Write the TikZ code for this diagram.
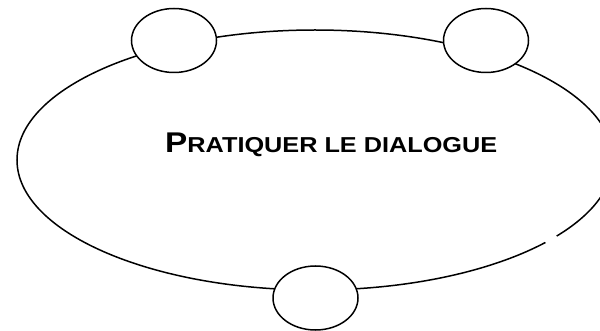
\documentclass[tikz,border=0pt]{standalone}
\usepackage{fontspec}
\setmainfont{Liberation Sans}
\newfontfamily\lblfont[FakeStretch=1.17]{Liberation Sans Bold}
\usetikzlibrary{shapes.geometric}
\begin{document}
\begin{tikzpicture}[x=1pt,y=-1pt,
  ring/.style={draw=black, line width=1.5pt, ellipse, inner sep=0pt, outer sep=0pt, fill=white},
  bigring/.style={ring, minimum width=596pt, minimum height=260pt},
  smallring/.style={ring, minimum width=85pt, minimum height=64pt},
  title/.style={inner sep=0pt, anchor=base west, text=black}]
\useasboundingbox (0,0) rectangle (600,331);
\clip (0,0) rectangle (600,331);
\fill[white] (0,0) rectangle (600,331);
\node[bigring] (big) at (315,160) {};
\coordinate (gapA) at (545.6,242.6);
\coordinate (gapB) at (556.6,236.2);
\draw[white, line width=4pt] (gapA) -- (gapB);
\node[smallring] (tl) at (174,40.5) {};
\node[smallring] (tr) at (486,40.5) {};
\node[smallring] (bt) at (315.5,298) {};
\node[title] (lbl) at (165,152.3) {\lblfont\fontsize{28.5}{28.5}\selectfont P\fontsize{21.6}{21.6}\selectfont RATIQUER LE DIALOGUE};
\end{tikzpicture}
\end{document}
